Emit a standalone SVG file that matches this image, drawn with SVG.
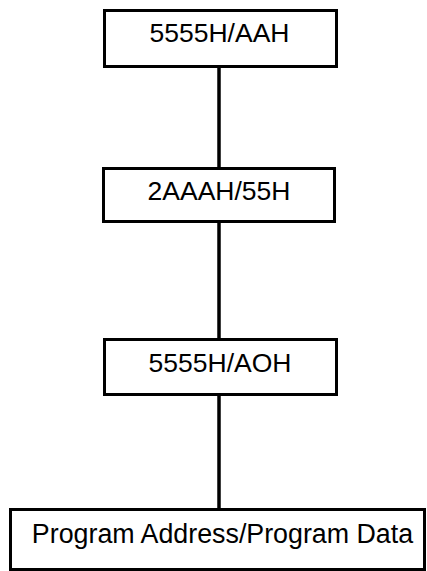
<svg xmlns="http://www.w3.org/2000/svg" width="427" height="571" viewBox="0 0 427 571">
<style>
.box{fill:#fff;stroke:#000;stroke-width:3}
.lbl{font-family:"Liberation Sans",Arial,sans-serif;font-size:26.5px;fill:#000;text-anchor:middle}
.conn{stroke:#000;stroke-width:3.5;fill:none}
</style>
<rect width="427" height="571" fill="#fff"/>
<g id="connectors">
<line class="conn" x1="219" y1="67" x2="219" y2="168"/>
<line class="conn" x1="219" y1="222" x2="219" y2="339"/>
<line class="conn" x1="219" y1="395" x2="219" y2="509"/>
</g>
<g id="n1"><rect class="box" x="104.5" y="10.5" width="232" height="56"/><text class="lbl" x="219.5" y="42">5555H/AAH</text></g>
<g id="n2"><rect class="box" x="103.5" y="168.5" width="231" height="53"/><text class="lbl" x="219" y="200">2AAAH/55H</text></g>
<g id="n3"><rect class="box" x="104.5" y="339.5" width="232" height="55"/><text class="lbl" x="220" y="372">5555H/AOH</text></g>
<g id="n4"><rect class="box" x="10.5" y="509.5" width="414" height="60"/><text class="lbl" x="222.5" y="543" style="font-size:26.8px">Program Address/Program Data</text></g>
</svg>
